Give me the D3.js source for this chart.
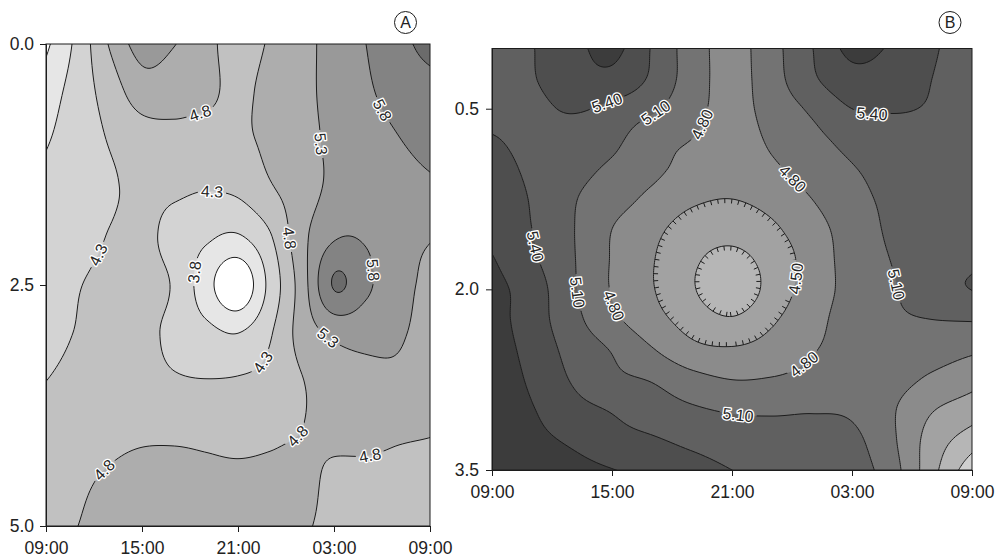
<!DOCTYPE html>
<html>
<head>
<meta charset="utf-8">
<script src="https://cdn.jsdelivr.net/npm/d3@7/dist/d3.min.js"></script>
<style>
  body { margin: 0; background: #fff; }
  svg text { font-family: "Liberation Sans", Arial, sans-serif; }
</style>
</head>
<body>
<svg id="chart" width="996" height="559"></svg>
<script>
// ---------------- data ----------------
// Hours elapsed since 09:00 (grid columns) and depth (grid rows)
const hoursA = [0, 2, 4, 6, 8, 10, 12, 14, 16, 18, 20, 22, 24];
const depthsA = [0, 0.5, 1, 1.5, 2, 2.5, 3, 3.5, 4, 4.5, 5];
const gridA = [
  [3.20, 3.95, 4.85, 5.50, 5.32, 4.95, 4.60, 4.85, 5.15, 5.48, 5.80, 6.10, 6.55],
  [3.55, 4.03, 4.53, 5.05, 5.00, 4.90, 4.70, 4.95, 5.18, 5.45, 5.73, 5.95, 6.05],
  [3.76, 4.05, 4.33, 4.55, 4.65, 4.60, 4.70, 4.90, 5.15, 5.40, 5.60, 5.78, 5.95],
  [3.92, 4.10, 4.25, 4.40, 4.38, 4.32, 4.40, 4.75, 5.05, 5.42, 5.50, 5.60, 5.70],
  [4.00, 4.15, 4.32, 4.40, 4.15, 3.88, 3.75, 4.25, 5.15, 5.75, 5.75, 5.45, 5.33],
  [4.10, 4.28, 4.40, 4.42, 4.25, 3.50, 2.90, 3.95, 5.05, 6.34, 5.90, 5.45, 5.20],
  [4.20, 4.32, 4.45, 4.40, 4.20, 3.95, 3.80, 4.25, 5.00, 5.40, 5.45, 5.35, 5.15],
  [4.30, 4.40, 4.50, 4.45, 4.35, 4.32, 4.35, 4.45, 4.78, 5.05, 5.15, 5.20, 5.05],
  [4.45, 4.55, 4.65, 4.70, 4.70, 4.68, 4.65, 4.70, 4.80, 4.95, 5.00, 4.90, 4.84],
  [4.60, 4.72, 4.85, 4.95, 4.95, 4.90, 4.88, 4.90, 4.93, 4.70, 4.65, 4.62, 4.60],
  [4.65, 4.80, 4.95, 5.00, 5.00, 5.00, 5.00, 4.98, 4.85, 4.70, 4.60, 4.55, 4.55]
];
const levelsA = [3.3, 3.8, 4.3, 4.8, 5.3, 5.8, 6.3];

const hoursB = [0, 2, 4, 6, 8, 10, 12, 14, 16, 18, 20, 22, 24];
const depthsB = [0, 0.25, 0.5, 0.75, 1, 1.25, 1.5, 1.75, 2, 2.25, 2.5, 2.75, 3, 3.25, 3.5];
const gridB = [
  [5.32, 5.39, 5.60, 5.78, 5.38, 4.95, 4.70, 5.00, 5.39, 5.78, 5.66, 5.43, 5.30],
  [5.28, 5.38, 5.58, 5.62, 5.35, 4.95, 4.70, 4.98, 5.35, 5.60, 5.55, 5.40, 5.30],
  [5.28, 5.32, 5.43, 5.33, 5.15, 4.90, 4.70, 4.92, 5.15, 5.40, 5.42, 5.38, 5.30],
  [5.42, 5.32, 5.25, 5.18, 4.90, 4.80, 4.65, 4.85, 5.02, 5.20, 5.30, 5.32, 5.30],
  [5.50, 5.35, 5.20, 5.05, 4.87, 4.70, 4.60, 4.75, 4.93, 5.08, 5.22, 5.28, 5.30],
  [5.55, 5.38, 5.13, 4.93, 4.73, 4.55, 4.50, 4.60, 4.80, 5.00, 5.17, 5.27, 5.33],
  [5.60, 5.40, 5.12, 4.80, 4.58, 4.37, 4.31, 4.45, 4.69, 4.93, 5.15, 5.27, 5.35],
  [5.72, 5.45, 5.13, 4.78, 4.52, 4.25, 4.12, 4.32, 4.63, 4.92, 5.11, 5.28, 5.36],
  [5.80, 5.55, 5.15, 4.78, 4.52, 4.23, 3.97, 4.32, 4.64, 4.90, 5.07, 5.30, 5.405],
  [5.82, 5.55, 5.20, 4.87, 4.61, 4.38, 4.23, 4.46, 4.70, 4.93, 5.05, 5.10, 5.12],
  [5.85, 5.60, 5.30, 5.08, 4.82, 4.58, 4.53, 4.62, 4.78, 4.90, 4.95, 4.93, 4.85],
  [5.90, 5.65, 5.38, 5.17, 5.08, 4.90, 4.80, 4.82, 4.88, 4.92, 4.90, 4.75, 4.60],
  [5.95, 5.72, 5.50, 5.38, 5.25, 5.14, 5.07, 5.06, 5.08, 5.05, 4.83, 4.52, 4.35],
  [6.00, 5.80, 5.65, 5.50, 5.43, 5.33, 5.25, 5.22, 5.20, 5.17, 4.85, 4.37, 4.05],
  [6.10, 5.95, 5.82, 5.71, 5.62, 5.52, 5.40, 5.30, 5.24, 5.24, 4.92, 4.30, 3.70]
];
const levelsB = [3.9, 4.2, 4.5, 4.8, 5.1, 5.4, 5.7];
// closed depressions drawn with hachures
const depressionLevelsB = [4.2, 4.5];

const timeTicks = [0, 6, 12, 18, 24];
const timeTickLabels = ["09:00", "15:00", "21:00", "03:00", "09:00"];
const depthTicksA = [0.0, 2.5, 5.0];
const depthTicksB = [0.5, 2.0, 3.5];

// contour labels: level and approximate spot (hour, depth) along that isoline
const labelsA = [
  { level: 4.8, h: 9.56, d: 0.66 },
  { level: 5.3, h: 16.9, d: 1.05 },
  { level: 5.8, h: 20.75, d: 0.72 },
  { level: 4.3, h: 10.4, d: 1.59 },
  { level: 4.3, h: 3.06, d: 2.17 },
  { level: 3.8, h: 9.3, d: 2.37 },
  { level: 4.8, h: 15.0, d: 2.01 },
  { level: 5.8, h: 20.6, d: 2.34 },
  { level: 5.3, h: 17.6, d: 3.04 },
  { level: 4.3, h: 13.0, d: 3.23 },
  { level: 4.8, h: 16.0, d: 4.11 },
  { level: 4.8, h: 20.25, d: 4.28 },
  { level: 4.8, h: 3.7, d: 4.42 }
];
const labelsB = [
  { level: 5.4, h: 5.75, d: 0.44 },
  { level: 5.1, h: 8.15, d: 0.53 },
  { level: 4.8, h: 10.55, d: 0.63 },
  { level: 4.8, h: 15.15, d: 1.07 },
  { level: 5.4, h: 19.05, d: 0.49 },
  { level: 5.4, h: 2.15, d: 1.65 },
  { level: 5.1, h: 4.3, d: 2.03 },
  { level: 4.8, h: 6.4, d: 2.11 },
  { level: 4.5, h: 15.05, d: 1.90 },
  { level: 5.1, h: 20.35, d: 1.95 },
  { level: 4.8, h: 15.45, d: 2.59 },
  { level: 5.1, h: 12.25, d: 3.06 }
];

// ---------------- styles ----------------
// band fills, from below the lowest level up to above the highest one
const paletteA = ["#ffffff", "#e6e6e6", "#d3d3d3", "#c1c1c1", "#adadad", "#999999", "#838383", "#6b6b6b"];
const paletteB = ["#d0d0d0", "#b6b6b6", "#a2a2a2", "#8b8b8b", "#737373", "#606060", "#4e4e4e", "#3c3c3c"];
const ink = "#1c1c1c";

const svg = d3.select("#chart");
const defs = svg.append("defs");

function catmullRom(p0, p1, p2, p3, t) {
  return p1 + 0.5 * t * (p2 - p0 + t * (2 * p0 - 5 * p1 + 4 * p2 - p3 + t * (3 * (p1 - p2) + p3 - p0)));
}

// smooth bicubic surface through the grid values (fractional grid indices in)
function makeSurface(grid) {
  const ny = grid.length, nx = grid[0].length;
  const at = (i, j) => {
    if (i < 0) return 2 * at(0, j) - at(1, j);
    if (i > nx - 1) return 2 * at(nx - 1, j) - at(nx - 2, j);
    if (j < 0) return 2 * at(i, 0) - at(i, 1);
    if (j > ny - 1) return 2 * at(i, ny - 1) - at(i, ny - 2);
    return grid[j][i];
  };
  return (fx, fy) => {
    const ix = Math.max(0, Math.min(Math.floor(fx), nx - 2));
    const iy = Math.max(0, Math.min(Math.floor(fy), ny - 2));
    const tx = fx - ix, ty = fy - iy;
    const r = [-1, 0, 1, 2].map(m =>
      catmullRom(at(ix - 1, iy + m), at(ix, iy + m), at(ix + 1, iy + m), at(ix + 2, iy + m), tx));
    return catmullRom(r[0], r[1], r[2], r[3], ty);
  };
}

function drawPanel(cfg) {
  const { id, left, top, width, height, depthMax } = cfg;
  const x = d3.scaleLinear().domain([0, 24]).range([left, left + width]);
  const y = d3.scaleLinear().domain([0, depthMax]).range([top, top + height]);
  const surface = makeSurface(cfg.grid);
  const hStep = cfg.hours[1] - cfg.hours[0], dStep = cfg.depths[1] - cfg.depths[0];
  const valueAt = (px, py) =>
    surface((x.invert(px) - cfg.hours[0]) / hStep, (y.invert(py) - cfg.depths[0]) / dStep);

  // sample the surface on a fine pixel lattice and trace the isolines
  const step = 2;
  const nx = Math.ceil(width / step) + 1, ny = Math.ceil(height / step) + 1;
  const values = new Array(nx * ny);
  for (let j = 0; j < ny; j++)
    for (let i = 0; i < nx; i++)
      values[j * nx + i] = valueAt(left + i * step, top + j * step);
  const contours = d3.contours().size([nx, ny]).thresholds(cfg.levels)(values);
  const gx = c => left + (c - 0.5) * step, gy = c => top + (c - 0.5) * step;
  const path = d3.geoPath(d3.geoTransform({
    point(px, py) { this.stream.point(gx(px), gy(py)); }
  }));

  defs.append("clipPath").attr("id", "clip" + id)
    .append("rect").attr("x", left).attr("y", top).attr("width", width).attr("height", height);

  // filled bands
  const bands = svg.append("g").attr("clip-path", `url(#clip${id})`);
  bands.append("rect").attr("x", left).attr("y", top).attr("width", width).attr("height", height)
    .attr("fill", cfg.palette[0]);
  bands.selectAll("path").data(contours).join("path")
    .attr("d", path).attr("fill", (d, i) => cfg.palette[i + 1]);

  // label placement along the isolines
  const inside = p => p[0] > left + 0.6 && p[0] < left + width - 0.6 && p[1] > top + 0.6 && p[1] < top + height - 0.6;
  const placed = cfg.labels.map(lb => {
    const c = contours.find(c => Math.abs(c.value - lb.level) < 1e-9);
    const tx = x(lb.h), ty = y(lb.d);
    let best = null;
    c.coordinates.forEach(poly => poly.forEach(ring => {
      const pts = ring.map(([a, b]) => [gx(a), gy(b)]);
      pts.forEach((p, k) => {
        if (!inside(p)) return;
        const dd = (p[0] - tx) ** 2 + (p[1] - ty) ** 2;
        if (!best || dd < best.dd) best = { dd, pts, k };
      });
    }));
    const { pts, k } = best;
    const m = pts.length - 1;
    const walk = dir => {
      let idx = k, acc = 0, prev = pts[k];
      while (acc < 9) {
        idx = (idx + dir + m) % m;
        const q = pts[idx];
        acc += Math.hypot(q[0] - prev[0], q[1] - prev[1]);
        prev = q;
      }
      return prev;
    };
    const a = walk(-1), b = walk(1);
    let ang = Math.atan2(b[1] - a[1], b[0] - a[0]) * 180 / Math.PI;
    if (ang > 90) ang -= 180;
    if (ang <= -90) ang += 180;
    return { text: cfg.labelFormat(lb.level), x: pts[k][0], y: pts[k][1], ang };
  });

  // isolines, with gaps cut where labels sit
  const mask = defs.append("mask").attr("id", "gap" + id)
    .attr("maskUnits", "userSpaceOnUse").attr("x", 0).attr("y", 0).attr("width", 996).attr("height", 559);
  mask.append("rect").attr("x", 0).attr("y", 0).attr("width", 996).attr("height", 559).attr("fill", "#fff");

  const lines = svg.append("g").attr("clip-path", `url(#clip${id})`)
    .append("g").attr("mask", `url(#gap${id})`);
  lines.selectAll("path").data(contours).join("path")
    .attr("d", path).attr("fill", "none").attr("stroke", ink).attr("stroke-width", 1);

  // hachures on closed depressions, pointing downhill
  const ticks = [];
  (cfg.depressions || []).forEach(level => {
    const c = contours.find(c => Math.abs(c.value - level) < 1e-9);
    c.coordinates.forEach(poly => poly.forEach(ring => {
      const pts = ring.map(([a, b]) => [gx(a), gy(b)]);
      if (!pts.every(p => p[0] > left + 2 && p[0] < left + width - 2 && p[1] > top + 2 && p[1] < top + height - 2)) return;
      const spacing = 7.2;
      let acc = 0, next = spacing / 2;
      for (let k = 1; k < pts.length; k++) {
        const [x1, y1] = pts[k - 1], [x2, y2] = pts[k];
        const seg = Math.hypot(x2 - x1, y2 - y1);
        if (seg === 0) continue;
        while (next <= acc + seg) {
          const t = (next - acc) / seg;
          const px = x1 + t * (x2 - x1), py = y1 + t * (y2 - y1);
          const k0 = pts[Math.max(0, k - 3)], k1 = pts[Math.min(pts.length - 1, k + 2)];
          const len = Math.hypot(k1[0] - k0[0], k1[1] - k0[1]) || 1;
          let nxv = -(k1[1] - k0[1]) / len, nyv = (k1[0] - k0[0]) / len;
          if (valueAt(px + 2 * nxv, py + 2 * nyv) > valueAt(px - 2 * nxv, py - 2 * nyv)) { nxv = -nxv; nyv = -nyv; }
          ticks.push([px, py, px + 4.5 * nxv, py + 4.5 * nyv]);
          next += spacing;
        }
        acc += seg;
      }
    }));
  });
  lines.selectAll("line").data(ticks).join("line")
    .attr("x1", d => d[0]).attr("y1", d => d[1]).attr("x2", d => d[2]).attr("y2", d => d[3])
    .attr("stroke", ink).attr("stroke-width", 1);

  // labels
  const labelG = svg.append("g");
  const lbl = labelG.selectAll("text").data(placed).join("text")
    .attr("transform", d => `translate(${d.x},${d.y}) rotate(${d.ang})`)
    .attr("text-anchor", "middle").attr("dy", "0.36em")
    .attr("font-size", 16)
    .attr("fill", "#262626").attr("stroke", "#ffffff").attr("stroke-width", 2.6)
    .attr("paint-order", "stroke").attr("stroke-linejoin", "round")
    .text(d => d.text);
  lbl.each(function (d) {
    const w = this.getComputedTextLength() + 6;
    mask.append("rect").attr("x", -w / 2).attr("y", -7.5).attr("width", w).attr("height", 15)
      .attr("transform", `translate(${d.x},${d.y}) rotate(${d.ang})`).attr("fill", "#000");
  });

  // frame and axes
  svg.append("rect").attr("x", left).attr("y", top).attr("width", width).attr("height", height)
    .attr("fill", "none").attr("stroke", ink).attr("stroke-width", 1);

  const xAxis = d3.axisBottom(x).tickValues(timeTicks)
    .tickFormat((d, i) => timeTickLabels[i]).tickSize(6).tickPadding(10);
  const yAxis = d3.axisLeft(y).tickValues(cfg.depthTicks)
    .tickFormat(d3.format(".1f")).tickSize(6).tickSizeOuter(cfg.yOuter).tickPadding(cfg.yPad);
  [svg.append("g").attr("transform", `translate(0,${top + height})`).call(xAxis),
   svg.append("g").attr("transform", `translate(${left},0)`).call(yAxis)]
    .forEach(g => {
      g.selectAll("path, line").attr("stroke", ink);
      g.selectAll("text").attr("font-size", 17.5).attr("fill", "#222")
        .attr("font-family", '"Liberation Sans", Arial, sans-serif');
    });

  // panel tag
  svg.append("circle").attr("cx", cfg.tagX).attr("cy", cfg.tagY).attr("r", 11)
    .attr("fill", "none").attr("stroke", ink).attr("stroke-width", 1);
  svg.append("text").attr("x", cfg.tagX).attr("y", cfg.tagY).attr("dy", "0.36em")
    .attr("text-anchor", "middle").attr("font-size", 16).attr("fill", "#222").text(cfg.tag);
}

drawPanel({
  id: "A", left: 46, top: 44, width: 384, height: 482, depthMax: 5,
  hours: hoursA, depths: depthsA, grid: gridA, levels: levelsA, palette: paletteA,
  depthTicks: depthTicksA, yOuter: 6, yPad: 6,
  labels: labelsA, labelFormat: d3.format(".1f"), depressions: [],
  tag: "A", tagX: 405.5, tagY: 22.5
});

drawPanel({
  id: "B", left: 492, top: 48.5, width: 480, height: 421.5, depthMax: 3.5,
  hours: hoursB, depths: depthsB, grid: gridB, levels: levelsB, palette: paletteB,
  depthTicks: depthTicksB, yOuter: 0, yPad: 7,
  labels: labelsB, labelFormat: d3.format(".2f"), depressions: depressionLevelsB,
  tag: "B", tagX: 950, tagY: 22.5
});
</script>
</body>
</html>
